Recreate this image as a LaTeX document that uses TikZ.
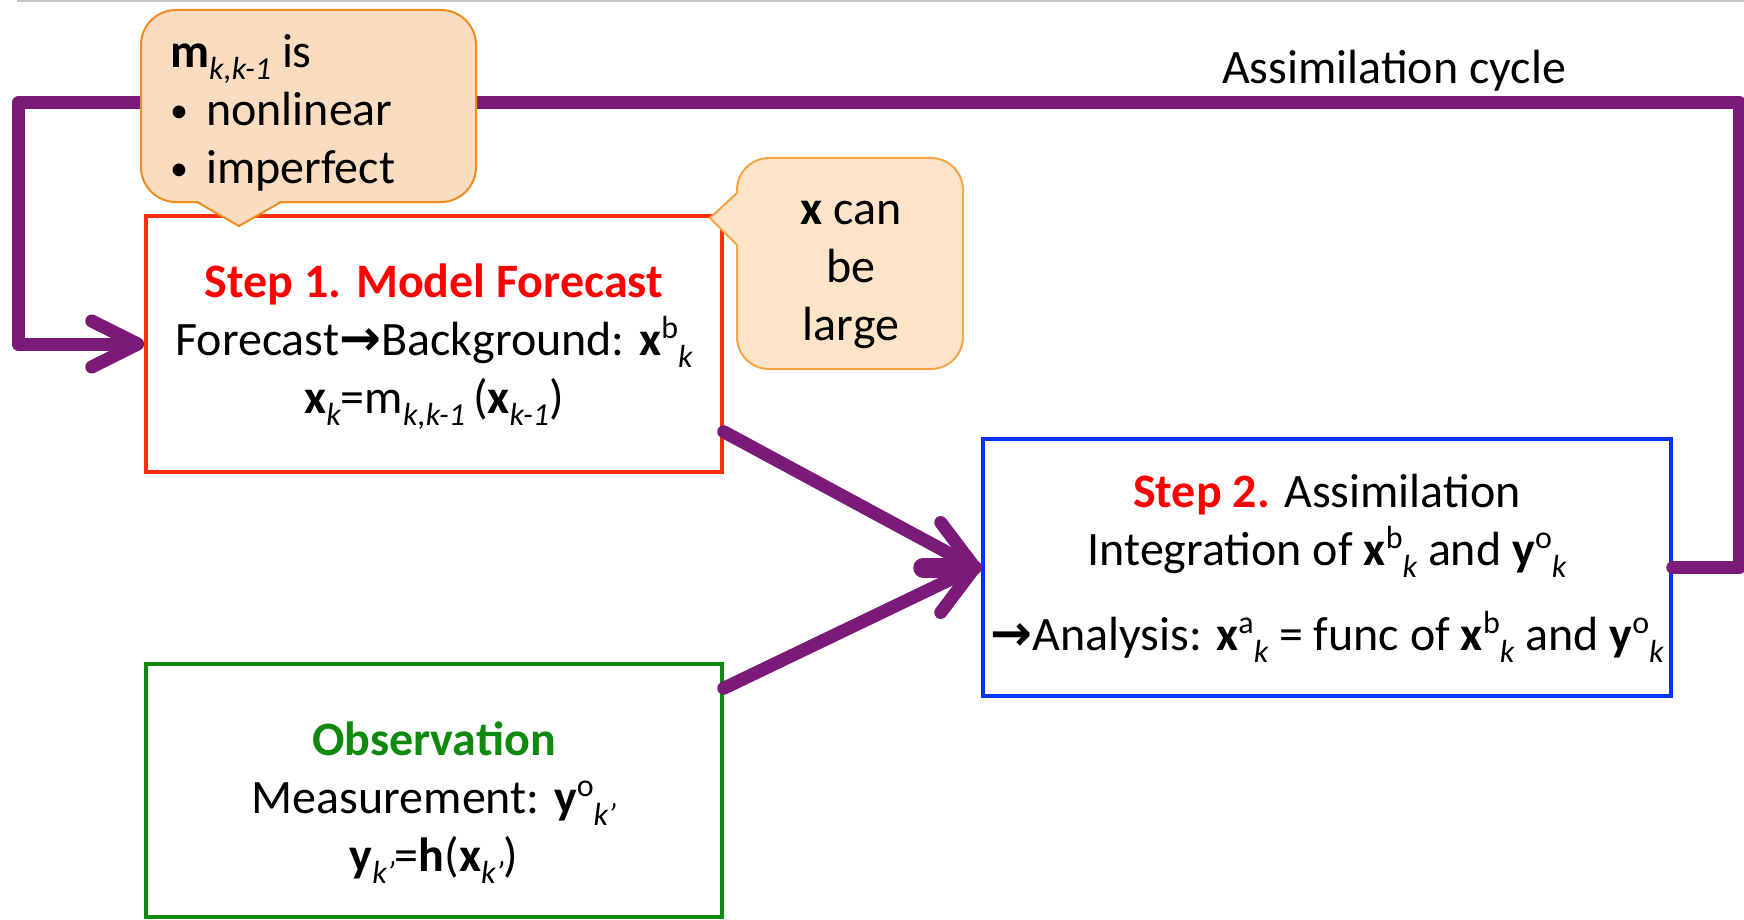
\documentclass[tikz,border=0pt]{standalone}
\usepackage{fontspec}
\setmainfont{Carlito}
\newfontfamily\symfont{DejaVu Sans}
\usetikzlibrary{arrows.meta,calc}

\definecolor{cyclecol}{HTML}{7B1A78}
\definecolor{steptext}{HTML}{FF0000}
\definecolor{fcborder}{HTML}{FF2E0A}
\definecolor{asborder}{HTML}{0533FF}
\definecolor{obsgreen}{HTML}{0F8A0F}
\definecolor{noteafill}{HTML}{FADCC0}
\definecolor{noteadraw}{HTML}{EE8C20}
\definecolor{notebfill}{HTML}{FDE4C8}
\definecolor{notebdraw}{HTML}{F5A448}
\definecolor{rulegray}{HTML}{C4C4C4}

% staggered super- and subscripts
\newcommand\upx[1]{\raisebox{0.36em}{\fontsize{32}{32}\selectfont #1}}
\newcommand\dnx[1]{\raisebox{-0.25em}{\fontsize{32}{32}\selectfont\itshape #1}}
\newcommand\arr{{\symfont\bfseries\fontsize{50}{50}\selectfont →}}
\newcommand\blt{\makebox[36pt][l]{\raisebox{3pt}{\fontsize{36}{36}\selectfont •}}}

\tikzset{
  stepbox/.style={draw, line width=3.5pt, fill=white, align=center, inner sep=0pt},
  cycleline/.style={draw=cyclecol, line width=13pt, line join=round, line cap=round},
  notea/.style={fill=noteafill, draw=noteadraw, line width=2pt},
  noteb/.style={fill=notebfill, draw=notebdraw, line width=2pt},
  bigtext/.style={font=\fontsize{48}{58}\selectfont},
}

\begin{document}
\begin{tikzpicture}[x=1pt, y=-1pt, bigtext]
\useasboundingbox (0,0) rectangle (1744,920);

% thin rule along the top
\draw[rulegray, line width=2pt] (17,1) -- (1744,1);

% boxes
\node[stepbox, draw=fcborder, minimum width=576pt, minimum height=256pt] (fc) at (434,344) {};
\node[align=center, inner sep=0pt] (fctext) at ([yshift=-3pt]fc.center)
  {{\color{steptext}\bfseries Step 1. Model Forecast}\\
   Forecast\arr Background: \textbf{x}\upx{b}\dnx{k}\\
   \textbf{x}\dnx{k}=m\dnx{k,k-1}\,(\textbf{x}\dnx{k-1})};

\node[stepbox, draw=asborder, minimum width=688pt, minimum height=257pt] (as) at (1327,567.5) {};
\node[align=center, inner sep=0pt] (astext) at ([yshift=-1pt]as.center)
  {{\color{steptext}\bfseries Step 2.} Assimilation\\
   Integration of \textbf{x}\upx{b}\dnx{k} and \textbf{y}\upx{o}\dnx{k}\\[27pt]
   \arr Analysis: \textbf{x}\upx{a}\dnx{k} = func of \textbf{x}\upx{b}\dnx{k} and \textbf{y}\upx{o}\dnx{k}};

\node[stepbox, draw=obsgreen, minimum width=576pt, minimum height=253pt] (ob) at (434,790.5) {};
\node[align=center, inner sep=0pt] (obtext) at ([yshift=-12pt]ob.center)
  {{\color{obsgreen}\bfseries Observation}\\
   Measurement: \textbf{y}\upx{o}\dnx{k’}\\
   \textbf{y}\dnx{k’}=\textbf{h}(\textbf{x}\dnx{k’})};

% assimilation cycle loop
\coordinate (cr) at (1739,103);
\coordinate (cl) at (18,103);
\draw[cycleline, -{Straight Barb[length=46pt, width=46pt, round]}]
  (as.east) -| (cr) -- (cl) |- (fc.west);
\node (cyc) at (1394,71) {Assimilation cycle};

% forecast and observation feeding the assimilation
\draw[cycleline] ([yshift=42pt]fc.south east) -- ([xshift=-6pt]as.west);
\draw[cycleline] ([yshift=-26pt]ob.north east) -- ([xshift=-6pt]as.west);
\draw[cycleline, line width=20pt, -{Straight Barb[length=34pt, width=90pt, line width=13pt, round]}]
  ([xshift=-58pt]as.west) -- (as.west);

% note on the model operator
\filldraw[notea, rounded corners=35pt] (141,10) rectangle (476,202);
\fill[noteafill] (195,199) -- (239,226) -- (283,199) -- cycle;
\draw[noteadraw, line width=2pt, line join=miter] (197,202) -- (239,226) -- (281,202);
\node[anchor=west, align=left, inner sep=0pt] (mnote) at (170,113)
  {\textbf{m}\dnx{k,k-1} is\\
   \blt nonlinear\\
   \blt imperfect};

% note on the state size
\filldraw[noteb, rounded corners=32pt] (737,158) rectangle (963,369);
\fill[notebfill] (740,191) -- (710,218) -- (740,247) -- cycle;
\draw[notebdraw, line width=2pt, line join=miter] (737,193) -- (710,218) -- (737,245);
\node[align=center, inner sep=0pt] (xnote) at (851,275)
  {\textbf{x} can\\ be\\ large};
\end{tikzpicture}
\end{document}
